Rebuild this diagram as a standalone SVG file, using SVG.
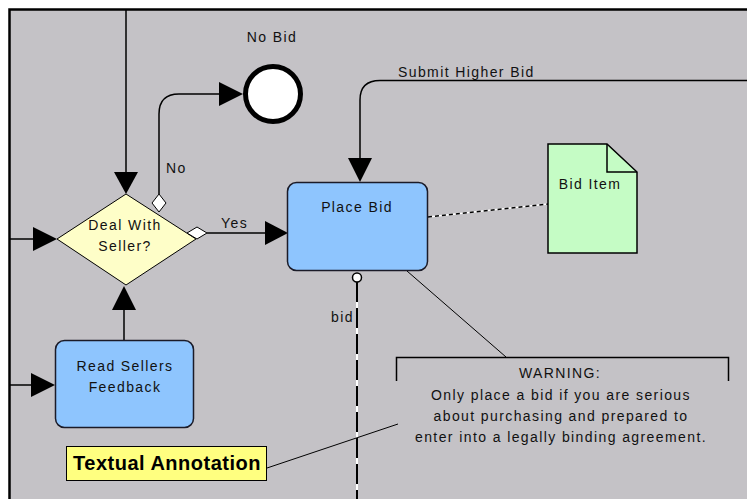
<svg xmlns="http://www.w3.org/2000/svg" width="747" height="499" viewBox="0 0 747 499">
<defs>
<style>
.t{font-family:"Liberation Sans",Arial,sans-serif;font-size:14px;letter-spacing:1.4px;fill:#111;}
.m{text-anchor:middle;}
.ln{fill:none;stroke:#000;stroke-width:1.5;}
.thin{fill:none;stroke:#000;stroke-width:1;}
.ah{fill:#000;}
.task{fill:#8ec5fe;stroke:#1b1b28;stroke-width:1.5;}
.gw{fill:#fff;stroke:#000;stroke-width:1;}
</style>
</defs>
<rect x="0" y="0" width="747" height="499" fill="#ffffff"/>
<rect x="9" y="9" width="738" height="490" fill="#c4c2c6"/>
<path d="M9.5,499 V9.5 H747" fill="none" stroke="#000" stroke-width="2.5"/>

<g id="connectors">
  <!-- top into gateway -->
  <path class="ln" d="M126,10 V172"/>
  <polygon class="ah" points="114,172 138,172 126,194"/>
  <!-- left into gateway -->
  <path class="ln" d="M10,239 H34"/>
  <polygon class="ah" points="33,227 33,251 57,239"/>
  <!-- left into Read Sellers -->
  <path class="ln" d="M10,385 H32"/>
  <polygon class="ah" points="31,373 31,397 55,385"/>
  <!-- Read Sellers to gateway -->
  <path class="ln" d="M124,340 V310"/>
  <polygon class="ah" points="112,310 136,310 124,286"/>
  <!-- No -->
  <path class="ln" d="M159,194 V114 Q159,94 179,94 H220"/>
  <polygon class="ah" points="219,82 219,106 243,94"/>
  <text class="t" x="166" y="173">No</text>
  <!-- Yes -->
  <path class="ln" d="M207,233 H266"/>
  <polygon class="ah" points="265,221 265,245 288,233"/>
  <text class="t" x="221" y="228">Yes</text>
  <!-- Submit Higher Bid -->
  <path class="ln" d="M747,80.5 H380 Q360,80.5 360,100 V158"/>
  <polygon class="ah" points="348,158 372,158 360,182"/>
  <text class="t" x="398" y="77">Submit Higher Bid</text>
  <!-- association Place Bid - Bid Item -->
  <line x1="428" y1="217" x2="548" y2="204" stroke="#fff" stroke-width="1.5"/>
  <line x1="428" y1="217" x2="548" y2="204" stroke="#000" stroke-width="1.5" stroke-dasharray="4 3"/>
  <!-- data association bid -->
  <line x1="357" y1="282" x2="357" y2="499" stroke="#fff" stroke-width="2"/>
  <line x1="357" y1="282" x2="357" y2="499" stroke="#000" stroke-width="2" stroke-dasharray="20 6"/>
  <circle cx="357" cy="277.5" r="4.5" fill="#fff" stroke="#000" stroke-width="1.5"/>
  <text class="t" x="331" y="322">bid</text>
  <!-- warning association -->
  <line class="thin" x1="407" y1="271" x2="506" y2="357"/>
  <!-- textual annotation association -->
  <line class="thin" x1="267" y1="468" x2="398" y2="424"/>
</g>

<g id="gateway">
  <polygon points="126,194 196,239 126,285 57,239" fill="#fefec8" stroke="#000" stroke-width="1"/>
  <polygon class="gw" points="159,194 166,203 159,212 152,203"/>
  <polygon class="gw" points="187,233 197,227 207,233 197,239"/>
  <text class="t m" x="125" y="230">Deal With</text>
  <text class="t m" x="125" y="251">Seller?</text>
</g>

<g id="end-event">
  <circle cx="273" cy="94" r="27.5" fill="#fff" stroke="#000" stroke-width="5"/>
  <text class="t m" x="272" y="42">No Bid</text>
</g>

<g id="place-bid">
  <rect class="task" x="287.5" y="182.5" width="140" height="88" rx="9"/>
  <text class="t m" x="357" y="212">Place Bid</text>
</g>

<g id="read-sellers-feedback">
  <rect class="task" x="55.5" y="340.5" width="138" height="87" rx="9"/>
  <text class="t m" x="125" y="371">Read Sellers</text>
  <text class="t m" x="125" y="392">Feedback</text>
</g>

<g id="bid-item">
  <path d="M548,144 H607 L637,172 V253 H548 Z" fill="#c5fcc5" stroke="#000" stroke-width="1.5"/>
  <path d="M607,144 V172 H637" fill="none" stroke="#000" stroke-width="1.5"/>
  <text class="t m" x="590" y="189">Bid Item</text>
</g>

<g id="warning-annotation">
  <path d="M396.5,381 V357.5 H728.5 V381" fill="none" stroke="#000" stroke-width="1.5"/>
  <text class="t m" x="560" y="378">WARNING:</text>
  <text class="t m" x="561" y="400">Only place a bid if you are serious</text>
  <text class="t m" x="561" y="421">about purchasing and prepared to</text>
  <text class="t m" x="561" y="442">enter into a legally binding agreement.</text>
</g>

<g id="textual-annotation">
  <rect x="66.5" y="446.5" width="200" height="34" fill="#ffff80" stroke="#000" stroke-width="1"/>
  <text x="167" y="470" text-anchor="middle" font-family="'Liberation Sans',Arial,sans-serif" font-size="20" font-weight="bold" letter-spacing="0.5" fill="#000">Textual Annotation</text>
</g>
</svg>
